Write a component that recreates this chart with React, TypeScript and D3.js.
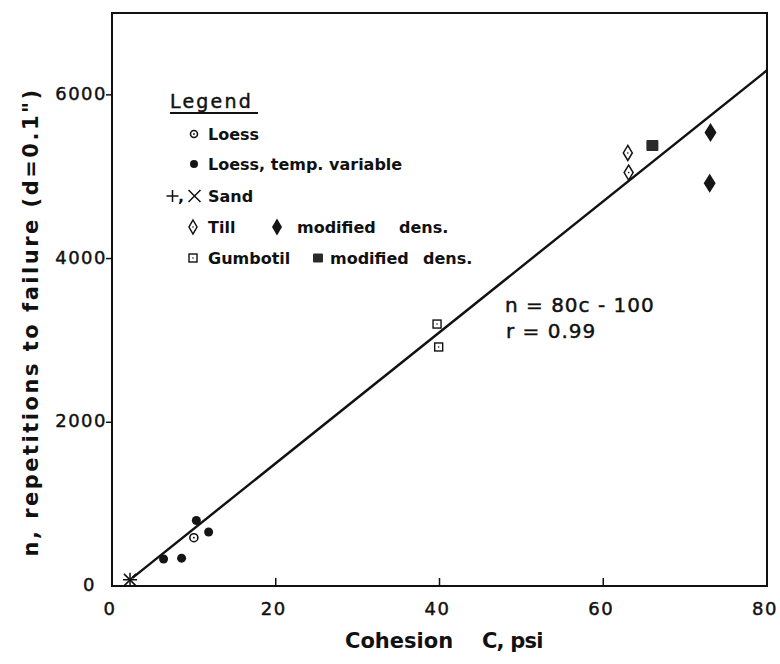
import React from "react";
import * as d3 from "d3";

// ---- data ----
const xTicks = [0, 20, 40, 60, 80];
const yTicks = [0, 2000, 4000, 6000];

const loessC = [10.0];
const loessN = [590];
const loessTempC = [6.3, 8.5, 10.3, 11.8];
const loessTempN = [330, 340, 800, 660];
const sandC = [2.2];
const sandN = [75];
const tillC = [63.0, 63.1];
const tillN = [5290, 5050];
const tillModC = [73.1, 73.0];
const tillModN = [5540, 4920];
const gumbotilC = [39.7, 39.9];
const gumbotilN = [3200, 2920];
const gumbotilModC = [66.0];
const gumbotilModN = [5380];

const fitSlope = 80;
const fitIntercept = -100;
const fitRange = [2.5, 80];

const FONT = "'DejaVu Sans', sans-serif";

const W = 780;
const H = 664;
const left = 112, right = 767, top = 13, bottom = 586;

const x = d3.scaleLinear().domain([0, 80]).range([left, right]);
const y = d3.scaleLinear().domain([0, 7000]).range([bottom, top]);

const pts = (cs: number[], ns: number[]) => cs.map((c, i) => [x(c), y(ns[i])] as [number, number]);

function OpenCircle({ cx, cy, r = 4 }: any) {
  return (
    <g>
      <circle cx={cx} cy={cy} r={r} fill="#fff" stroke="#111" strokeWidth={1.6} />
      <circle cx={cx} cy={cy} r={0.9} fill="#111" />
    </g>
  );
}
function FilledCircle({ cx, cy, r = 4.5 }: any) {
  return <circle cx={cx} cy={cy} r={r} fill="#151515" />;
}
function Plus({ cx, cy, s = 6 }: any) {
  return (
    <path d={`M${cx - s},${cy}H${cx + s}M${cx},${cy - s}V${cy + s}`} stroke="#111" strokeWidth={1.5} fill="none" />
  );
}
function Cross({ cx, cy, s = 5 }: any) {
  return (
    <path d={`M${cx - s},${cy - s}L${cx + s},${cy + s}M${cx - s},${cy + s}L${cx + s},${cy - s}`} stroke="#111" strokeWidth={1.5} fill="none" />
  );
}
function OpenDiamond({ cx, cy, w = 4.5, h = 7.5 }: any) {
  return (
    <g>
      <path d={`M${cx},${cy - h}L${cx + w},${cy}L${cx},${cy + h}L${cx - w},${cy}Z`} fill="#fff" stroke="#111" strokeWidth={1.5} />
      <circle cx={cx} cy={cy} r={0.8} fill="#111" />
    </g>
  );
}
function FilledDiamond({ cx, cy, w = 6, h = 9.5 }: any) {
  return <path d={`M${cx},${cy - h}L${cx + w},${cy}L${cx},${cy + h}L${cx - w},${cy}Z`} fill="#151515" />;
}
function OpenSquare({ cx, cy, s = 4 }: any) {
  return (
    <g>
      <rect x={cx - s} y={cy - s} width={2 * s} height={2 * s} fill="#fff" stroke="#111" strokeWidth={1.4} />
      <circle cx={cx} cy={cy} r={0.8} fill="#111" />
    </g>
  );
}
function FilledSquare({ cx, cy, w = 6, h = 5.5 }: any) {
  return <rect x={cx - w} y={cy - h} width={2 * w} height={2 * h} fill="#2a2a2a" rx={1} />;
}

export default function App() {
  const line = d3.line<number>()
    .x((c) => x(c))
    .y((c) => y(fitSlope * c + fitIntercept));

  const legendText = { fontFamily: FONT, fontSize: 16, fontWeight: "bold" as const, fill: "#111" };
  const medium = { stroke: "#111", strokeWidth: 0.45 };

  return (
    <svg width={W} height={H} style={{ position: "absolute", left: 0, top: 0, background: "#fff" }}>
      <rect x={0} y={0} width={W} height={H} fill="#fff" />
      {/* frame */}
      <rect x={left} y={top} width={right - left} height={bottom - top} fill="none" stroke="#111" strokeWidth={2} />
      {/* x ticks (inward) */}
      {xTicks.map((t) => (
        <g key={"xt" + t}>
          {t > 0 && t < 80 && <line x1={x(t)} x2={x(t)} y1={bottom} y2={bottom - 8} stroke="#111" strokeWidth={1.5} />}
          <text x={x(t) - 2} y={615} textAnchor="middle" fontFamily={FONT} fontSize={18} letterSpacing={1.5} fill="#111" {...medium}>{t}</text>
        </g>
      ))}
      {/* y ticks (outward) */}
      {yTicks.map((t) => (
        <g key={"yt" + t}>
          {t > 0 && <line x1={left - 6} x2={left} y1={y(t)} y2={y(t)} stroke="#111" strokeWidth={1.5} />}
          <text x={t === 0 ? 96 : 107} y={y(t) + 5} textAnchor="end" fontFamily={FONT} fontSize={18} letterSpacing={1.5} fill="#111" {...medium}>{t}</text>
        </g>
      ))}

      {/* axis titles */}
      <text x={345} y={648} fontFamily={FONT} fontSize={21} fontWeight="bold" fill="#111">
        Cohesion
        <tspan x={482} letterSpacing={-0.8}>C, psi</tspan>
      </text>
      <text transform={`translate(38,322) rotate(-90)`} textAnchor="middle" fontFamily={FONT} fontSize={21} fontWeight="bold" letterSpacing={2.5} fill="#111">
        n, repetitions to failure (d=0.1")
      </text>

      {/* fit line */}
      <path d={line(fitRange) || ""} stroke="#111" strokeWidth={2.4} fill="none" />

      {/* points */}
      {pts(loessTempC, loessTempN).map(([px, py], i) => <FilledCircle key={"lt" + i} cx={px} cy={py} />)}
      {pts(loessC, loessN).map(([px, py], i) => <OpenCircle key={"l" + i} cx={px} cy={py} />)}
      {pts(sandC, sandN).map(([px, py], i) => (
        <g key={"s" + i}>
          <Plus cx={px} cy={py} s={7} />
          <Cross cx={px} cy={py} s={6} />
        </g>
      ))}
      {pts(gumbotilC, gumbotilN).map(([px, py], i) => <OpenSquare key={"g" + i} cx={px} cy={py} />)}
      {pts(gumbotilModC, gumbotilModN).map(([px, py], i) => <FilledSquare key={"gm" + i} cx={px} cy={py} />)}
      {pts(tillC, tillN).map(([px, py], i) => <OpenDiamond key={"t" + i} cx={px} cy={py} />)}
      {pts(tillModC, tillModN).map(([px, py], i) => <FilledDiamond key={"tm" + i} cx={px} cy={py} />)}

      {/* equation */}
      <text x={505} y={312} fontFamily={FONT} fontSize={20} letterSpacing={1} fill="#111" {...medium}>n = 80c - 100</text>
      <text x={506} y={338} fontFamily={FONT} fontSize={20} letterSpacing={1} fill="#111" {...medium}>r = 0.99</text>

      {/* legend */}
      <text x={170} y={108} fontFamily={FONT} fontSize={19} letterSpacing={2.2} fill="#111" {...medium}>Legend</text>
      <line x1={170} x2={258} y1={113} y2={113} stroke="#111" strokeWidth={2} />

      <OpenCircle cx={194} cy={134} r={3.5} />
      <text x={208} y={140} {...legendText}>Loess</text>

      <FilledCircle cx={194} cy={164} r={4} />
      <text x={208} y={170} {...legendText}>Loess, temp. variable</text>

      <Plus cx={172.5} cy={196} s={6} />
      <text x={178} y={202} {...legendText}>,</text>
      <Cross cx={194.5} cy={196} s={6} />
      <text x={208} y={202} {...legendText}>Sand</text>

      <OpenDiamond cx={193} cy={227} w={4} h={7} />
      <text x={208} y={233} {...legendText}>Till</text>
      <FilledDiamond cx={277} cy={227} w={5} h={8.5} />
      <text x={297} y={233} {...legendText}>modified</text>
      <text x={399} y={233} {...legendText}>dens.</text>

      <OpenSquare cx={193} cy={258} s={4} />
      <text x={208} y={264} {...legendText}>Gumbotil</text>
      <FilledSquare cx={318} cy={258} w={5} h={4.5} />
      <text x={330} y={264} {...legendText}>modified</text>
      <text x={423} y={264} {...legendText}>dens.</text>
    </svg>
  );
}
